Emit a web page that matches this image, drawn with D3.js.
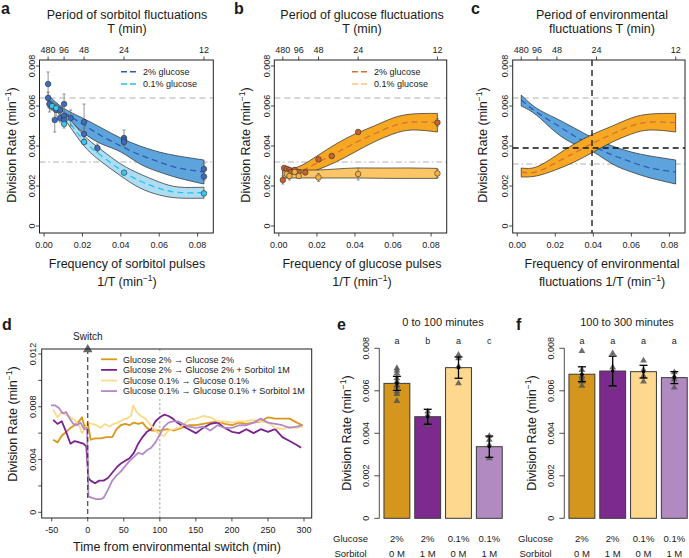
<!DOCTYPE html>
<html><head><meta charset="utf-8">
<script src="https://cdn.jsdelivr.net/npm/d3@7"></script>
<style>
body{margin:0;background:#fff}
text{font-family:"Liberation Sans",Arial,Helvetica,sans-serif;fill:#1a1a1a}
</style>
</head><body><script>
// ---------------- DATA ----------------
const FREQ_DOMAIN = [-0.0024, 0.0882];
const topPeriods = [480, 96, 48, 24, 12];
const freqTicks = [0, 0.02, 0.04, 0.06, 0.08];
const rateTicks = [0, 0.002, 0.004, 0.006, 0.008];
const fitFreq = [0.00208, 0.01, 0.02, 0.03, 0.04, 0.05, 0.06, 0.07, 0.0833];

// panel a (sorbitol pulses)
const aHighPeriod = [480,480,360,240,180,160,120,120,96,96,96,72,48,48,36,24,24,24,12,12];
const aHighRate = [0.0071,0.0064,0.0061,0.0060,0.0053,0.0058,0.0054,0.0058,0.0061,0.0055,0.0053,0.0054,0.0052,0.0046,0.0039,0.0044,0.0043,0.0042,0.00285,0.00247];
const aHighErr = [0.0006,0.0003,0.0004,0.0002,0.0006,0.0003,0.0002,0.0002,0.0005,0.0002,0.0002,0.0004,0.0009,0.0003,0.0002,0.0004,0.0002,0.0002,0.0003,0.0002];
const aLowPeriod = [240,160,96,48,24,12];
const aLowRate = [0.0060,0.0059,0.0051,0.0042,0.00267,0.00163];
const aLowErr = [0.0002,0.0002,0.0002,0.0001,0.0001,0.0001];
const aHighFitHi = [0.00655,0.0059,0.0054,0.0049,0.0044,0.0040,0.0037,0.0035,0.0033];
const aHighFitLo = [0.0060,0.00555,0.0047,0.0041,0.0037,0.0031,0.0027,0.0024,0.0021];
const aHighFitMid = [0.0063,0.0057,0.0051,0.0045,0.0040,0.00355,0.0032,0.0029,0.0027];
const aLowFitHi = [0.0062,0.0057,0.0046,0.0038,0.0031,0.0026,0.0022,0.00195,0.00194];
const aLowFitLo = [0.0059,0.0054,0.0041,0.0032,0.0025,0.0019,0.00155,0.0014,0.00139];
const aLowFitMid = [0.00605,0.00555,0.00435,0.0035,0.0028,0.00225,0.00188,0.00168,0.00167];

// panel b (glucose pulses)
const bHighPeriod = [480,360,240,180,160,120,96,72,48,36,24,12];
const bHighRate = [0.0023,0.0029,0.00285,0.0028,0.0027,0.0028,0.0027,0.00268,0.00333,0.0035,0.0047,0.00517];
const bHighErr = [0.0002,0.0001,0.0001,0.0001,0.0001,0.0001,0.0001,0.0001,0.0001,0.0001,0.0001,0.0002];
const bLowPeriod = [240,180,120,96,48,24,12];
const bLowRate = [0.0026,0.0025,0.0027,0.0025,0.00243,0.0026,0.00263];
const bLowErr = [0.0002,0.0002,0.0001,0.0001,0.0002,0.0003,0.0002];
const bHighFitHi = [0.0029,0.00295,0.0035,0.0041,0.0046,0.0050,0.0054,0.0056,0.00563];
const bHighFitLo = [0.00245,0.0025,0.0028,0.0032,0.0037,0.0042,0.0046,0.0048,0.0047];
const bHighFitMid = [0.0027,0.0027,0.00315,0.00365,0.00415,0.0046,0.0050,0.0052,0.00517];
const bLowFitHi = [0.0028,0.0028,0.0028,0.00285,0.0029,0.0029,0.0029,0.0029,0.00288];
const bLowFitLo = [0.0024,0.0024,0.0024,0.0024,0.0024,0.00239,0.00238,0.00238,0.00238];
const bLowFitMid = [0.0026,0.0026,0.0026,0.00263,0.00265,0.00265,0.00264,0.00264,0.00263];

// panel c crossing
const crossFreq = 0.0393;
const crossRate = 0.0039;

// panel d time series
const dSeriesNames = ["Glucose 2% \u2192 Glucose 2%","Glucose 2% \u2192 Glucose 2% + Sorbitol 1M","Glucose 0.1% \u2192 Glucose 0.1%","Glucose 0.1% \u2192 Glucose 0.1% + Sorbitol 1M"];
const dGoldT = [-48,-42,-36,-30,-24,-18,-12,-8,-4,0,4,10,18,26,34,40,46,52,58,64,70,76,82,88,94,100,110,120,130,140,150,160,170,180,190,200,210,220,230,240,250,260,270,280,290,298];
const dGoldV = [0.0055,0.0053,0.0058,0.0061,0.0064,0.0066,0.0069,0.0072,0.0064,0.0068,0.0055,0.0056,0.0056,0.0057,0.0057,0.0063,0.0066,0.0067,0.0066,0.0068,0.0067,0.0068,0.0064,0.0062,0.0062,0.0062,0.0063,0.0062,0.0064,0.0066,0.0066,0.0067,0.0068,0.0069,0.0067,0.0066,0.0068,0.0067,0.0068,0.0069,0.0072,0.0071,0.0071,0.0071,0.0068,0.0066];
const dPurpleT = [-48,-42,-36,-30,-24,-18,-12,-6,-2,1,4,10,16,22,28,34,40,46,52,58,64,70,76,82,88,94,100,106,112,118,124,130,140,150,160,170,180,190,200,210,220,230,240,250,260,270,280,290,296];
const dPurpleV = [0.0070,0.0067,0.0069,0.0061,0.0052,0.0054,0.0053,0.0052,0.0050,0.0026,0.0024,0.0022,0.0024,0.0024,0.0026,0.0030,0.0034,0.0037,0.0039,0.0041,0.0045,0.0052,0.0057,0.0061,0.0063,0.0069,0.0072,0.0074,0.0073,0.0071,0.0068,0.0066,0.0063,0.0060,0.0064,0.0067,0.0068,0.0064,0.0061,0.0060,0.0063,0.0060,0.0063,0.0061,0.0063,0.0057,0.0054,0.0051,0.0049];
const dLightGoldT = [-48,-42,-36,-30,-24,-18,-12,-8,-4,0,6,12,18,24,30,36,42,48,54,60,63,68,74,80,86,92,100,106,112,120,130,140,150,160,170,180,190,200,210,220,230,240,250,260,270,280,290,298];
const dLightGoldV = [0.0078,0.0072,0.0076,0.0074,0.0072,0.0070,0.0066,0.0060,0.0063,0.0068,0.0067,0.0066,0.0064,0.0067,0.0065,0.0067,0.0068,0.0070,0.0071,0.0073,0.0081,0.0076,0.0073,0.0071,0.0067,0.0063,0.0059,0.0058,0.0062,0.0063,0.0065,0.0070,0.0071,0.0073,0.0072,0.0069,0.0069,0.0068,0.0069,0.0069,0.0070,0.0069,0.0068,0.0064,0.0063,0.0065,0.0064,0.0065];
const dLightPurpleT = [-51,-45,-40,-35,-30,-25,-20,-15,-10,-5,-1,1,6,12,18,22,28,34,40,46,52,58,64,70,76,82,88,94,100,106,112,118,125,132,140,150,160,170,180,190,200,210,220,230,240,250,260,270,280,290,298];
const dLightPurpleV = [0.0081,0.0081,0.0079,0.0075,0.0076,0.0071,0.0067,0.0066,0.0068,0.0063,0.0064,0.0012,0.0011,0.0010,0.0010,0.0011,0.0017,0.0024,0.0028,0.0031,0.0035,0.0039,0.0042,0.0045,0.0044,0.0047,0.0049,0.0053,0.0059,0.0065,0.0068,0.0069,0.0069,0.0067,0.0065,0.0064,0.0065,0.0062,0.0066,0.0064,0.0064,0.0066,0.0066,0.0068,0.0071,0.0068,0.0067,0.0066,0.0064,0.0065,0.0066];
const dTimeTicks = [-50,0,50,100,150,200,250,300];
const dRateTicks = [0,0.002,0.004,0.006,0.008,0.010,0.012];
const dRateLabels = [0,0.004,0.008,0.012];
const switchTime = 0;
const recoveryTime = 100;

// panels e,f bars
const barGlucose = ["2%","2%","0.1%","0.1%"];
const barSorbitol = ["0 M","1 M","0 M","1 M"];
const eMeans = [0.00635,0.00478,0.00709,0.00337];
const eErr = [0.00033,0.00035,0.0005,0.0005];
const eReps = [[0.00706,0.00695,0.00682,0.00659,0.00643,0.00627,0.0062,0.00596,0.00585,0.00552],[0.00502,0.00486,0.0047,0.00439],[0.00769,0.00753,0.00714,0.00635],[0.00387,0.00369,0.00345,0.00282]];
const eLetters = ["a","b","a","c"];
const fMeans = [0.00678,0.00693,0.0069,0.00662];
const fErr = [0.00035,0.0007,0.0003,0.00028];
const fReps = [[0.00787,0.00698,0.0067,0.00659,0.00643,0.00623],[0.00776,0.0071,0.00667,0.0062],[0.00742,0.00698,0.0067,0.00643],[0.00687,0.00667,0.00654,0.00615]];
const fLetters = ["a","a","a","a"];

// ---------------- STYLE ----------------
const C = {
  blueBand:"#5ea4dc", blueLight:"#addcf3", bluePt:"#3b6cc0", cyanPt:"#3cc4ee", blueDash:"#2f5bb5", cyanDash:"#22c4f0",
  orBand:"#f7a823", orLight:"#fcc664", orPt:"#c8622a", orLightPt:"#f6b042", orDash:"#d5703a", orLightDash:"#fbc27a",
  gold:"#d8981c", purple:"#7a2290", lgold:"#fdd98b", lpurple:"#b48ac6"
};
const lineColors = [C.gold, C.purple, C.lgold, C.lpurple];
const barColors = ["#d4961c","#7d2a8e","#fdd88e","#b28ac2"];

const svg = d3.select("body").append("svg").attr("width",689).attr("height",558);

function rateTitle(g, x, cy, fs) {
  const t = g.append("text").attr("transform",`translate(${x},${cy}) rotate(-90)`)
    .attr("text-anchor","middle").attr("font-size",fs);
  t.append("tspan").text("Division Rate (min");
  t.append("tspan").attr("dy",-5).attr("font-size",fs*0.68).text("\u22121");
  t.append("tspan").attr("dy",5).text(")");
}
function minText(g, x, y, prefix, fs) {
  const t = g.append("text").attr("x",x).attr("y",y).attr("text-anchor","middle").attr("font-size",fs);
  t.append("tspan").text(prefix + "(min");
  t.append("tspan").attr("dy",-5).attr("font-size",fs*0.68).text("\u22121");
  t.append("tspan").attr("dy",5).text(")");
}
function plainText(g, x, y, s, fs, anchor="middle", weight="normal") {
  return g.append("text").attr("x",x).attr("y",y).attr("text-anchor",anchor).attr("font-size",fs).attr("font-weight",weight).text(s);
}
function leftAxis(g, y, x0, ticks, labelSet, fmt, tickLen, labOff, fs) {
  ticks.forEach(v => {
    g.append("line").attr("x1",x0).attr("x2",x0-tickLen).attr("y1",y(v)).attr("y2",y(v)).attr("stroke","#222").attr("stroke-width",0.8);
    if (labelSet.includes(v)) {
      g.append("text").attr("transform",`translate(${x0-labOff},${y(v)}) rotate(-90)`)
        .attr("text-anchor","middle").attr("font-size",fs).text(fmt(v));
    }
  });
}
const rateFmt = v => v === 0 ? "0" : d3.format(".3f")(v);

// ---------------- PANELS a,b,c ----------------
function freqPanel(o) {
  const g = svg.append("g");
  const T = 60, B = 233;
  const x = d3.scaleLinear().domain(FREQ_DOMAIN).range([o.L, o.R]);
  const y = d3.scaleLinear().domain([0, 0.008]).range([226, 66]);
  g.append("line").attr("x1",o.L).attr("x2",o.R).attr("y1",y(o.refHi)).attr("y2",y(o.refHi))
    .attr("stroke","#b0b0b0").attr("stroke-width",1).attr("stroke-dasharray","6,4");
  g.append("line").attr("x1",o.L).attr("x2",o.R).attr("y1",y(o.refLo)).attr("y2",y(o.refLo))
    .attr("stroke","#b0b0b0").attr("stroke-width",1).attr("stroke-dasharray","6,3,1.5,3");
  o.bands.forEach(b => {
    const pts = fitFreq.map((f,i)=>({f, hi:b.hi[i], lo:b.lo[i], mid:b.mid[i]}));
    const area = d3.area().x(d=>x(d.f)).y0(d=>y(d.lo)).y1(d=>y(d.hi)).curve(d3.curveNatural);
    g.append("path").datum(pts).attr("d",area).attr("fill",b.fill).attr("stroke","#2a2a2a").attr("stroke-width",0.7);
    const line = d3.line().x(d=>x(d.f)).y(d=>y(d.mid)).curve(d3.curveNatural);
    g.append("path").datum(pts).attr("d",line).attr("fill","none").attr("stroke",b.dash).attr("stroke-width",1.3).attr("stroke-dasharray","6,4");
  });
  if (o.cross) {
    g.append("line").attr("x1",x(o.cross[0])).attr("x2",x(o.cross[0])).attr("y1",T).attr("y2",B)
      .attr("stroke","#111").attr("stroke-width",1.3).attr("stroke-dasharray","6,4");
    g.append("line").attr("x1",o.L).attr("x2",o.R).attr("y1",y(o.cross[1])).attr("y2",y(o.cross[1]))
      .attr("stroke","#111").attr("stroke-width",1.3).attr("stroke-dasharray","6,4");
  }
  o.points.forEach(s => {
    s.period.forEach((p,i) => {
      const cx = x(1/p);
      g.append("line").attr("x1",cx).attr("x2",cx).attr("y1",y(s.rate[i]-s.err[i])).attr("y2",y(s.rate[i]+s.err[i])).attr("stroke","#777").attr("stroke-width",0.8);
      [s.rate[i]-s.err[i], s.rate[i]+s.err[i]].forEach(v=>g.append("line").attr("x1",cx-1.5).attr("x2",cx+1.5).attr("y1",y(v)).attr("y2",y(v)).attr("stroke","#777").attr("stroke-width",0.8));
    });
  });
  o.points.forEach(s => {
    s.period.forEach((p,i) => {
      g.append("circle").attr("cx",x(1/p)).attr("cy",y(s.rate[i])).attr("r",2.8).attr("fill",s.fill).attr("stroke","#333").attr("stroke-width",0.6);
    });
  });
  g.append("rect").attr("x",o.L).attr("y",T).attr("width",o.R-o.L).attr("height",B-T).attr("fill","none").attr("stroke","#222").attr("stroke-width",1);
  leftAxis(g, y, o.L, rateTicks, rateTicks, rateFmt, 3.5, 4.5, 9);
  freqTicks.forEach(v => {
    g.append("line").attr("x1",x(v)).attr("x2",x(v)).attr("y1",B).attr("y2",B+3.5).attr("stroke","#222").attr("stroke-width",0.8);
    plainText(g, x(v), B+15, d3.format(".2f")(v), 9);
  });
  topPeriods.forEach(p => {
    g.append("line").attr("x1",x(1/p)).attr("x2",x(1/p)).attr("y1",T).attr("y2",T-3.5).attr("stroke","#222").attr("stroke-width",0.8);
    plainText(g, x(1/p), T-7.5, String(p), 9);
  });
  const cx = o.titleX;
  plainText(g, cx, 18.5, o.title[0], 12.5);
  plainText(g, cx, 33, o.title[1], 12.5);
  plainText(g, cx, 268, o.xlab[0], 12.5);
  minText(g, cx, 286, o.xlab[1], 12.5);
  rateTitle(g, o.yTitleX, 145, 12.5);
  plainText(g, o.letterX, 14, o.letter, 16, "start", "bold");
  if (o.legend) {
    o.legend.forEach((l,i) => {
      const ly = 71.7 + i*12.3;
      g.append("line").attr("x1",o.legX).attr("x2",o.legX+16).attr("y1",ly).attr("y2",ly).attr("stroke",l.color).attr("stroke-width",1.4).attr("stroke-dasharray","6,3");
      plainText(g, o.legX+22, ly+3.2, l.label, 9, "start");
    });
  }
}

freqPanel({
  L:39.5, R:213.3, letter:"a", letterX:1, titleX:127,
  title:["Period of sorbitol fluctuations","T (min)"], xlab:["Frequency of sorbitol pulses","1/T "],
  yTitleX:15.5, refHi:0.0064, refLo:0.0032,
  bands:[{hi:aHighFitHi, lo:aHighFitLo, mid:aHighFitMid, fill:C.blueBand, dash:C.blueDash},
         {hi:aLowFitHi, lo:aLowFitLo, mid:aLowFitMid, fill:C.blueLight, dash:C.cyanDash}],
  points:[{period:aHighPeriod, rate:aHighRate, err:aHighErr, fill:C.bluePt},
          {period:aLowPeriod, rate:aLowRate, err:aLowErr, fill:C.cyanPt}],
  legX:121, legend:[{label:"2% glucose", color:C.blueDash},{label:"0.1% glucose", color:C.cyanDash}]
});
freqPanel({
  L:274.3, R:446.7, letter:"b", letterX:234, titleX:362,
  title:["Period of glucose fluctuations","T (min)"], xlab:["Frequency of glucose pulses","1/T "],
  yTitleX:249.5, refHi:0.0064, refLo:0.0032,
  bands:[{hi:bHighFitHi, lo:bHighFitLo, mid:bHighFitMid, fill:C.orBand, dash:C.orDash},
         {hi:bLowFitHi, lo:bLowFitLo, mid:bLowFitMid, fill:C.orLight, dash:C.orLightDash}],
  points:[{period:bHighPeriod, rate:bHighRate, err:bHighErr, fill:C.orPt},
          {period:bLowPeriod, rate:bLowRate, err:bLowErr, fill:C.orLightPt}],
  legX:352, legend:[{label:"2% glucose", color:C.orDash},{label:"0.1% glucose", color:C.orLightDash}]
});
freqPanel({
  L:512.7, R:685, letter:"c", letterX:471, titleX:602,
  title:["Period of environmental","fluctuations T (min)"], xlab:["Frequency of environmental","fluctuations 1/T "],
  yTitleX:487, refHi:0.0064, refLo:0.0031,
  bands:[{hi:aHighFitHi, lo:aHighFitLo, mid:aHighFitMid, fill:C.blueBand, dash:C.blueDash},
         {hi:bHighFitHi, lo:bHighFitLo, mid:bHighFitMid, fill:C.orBand, dash:C.orDash}],
  points:[], cross:[crossFreq, crossRate]
});

// ---------------- PANEL d ----------------
(function(){
  const g = svg.append("g");
  const L=41.7, R=311.7, T=349, B=518;
  const x = d3.scaleLinear().domain([-50,300]).range([51.7,304]);
  const y = d3.scaleLinear().domain([0,0.012]).range([512.3,354]);
  g.append("line").attr("x1",x(recoveryTime)).attr("x2",x(recoveryTime)).attr("y1",T).attr("y2",B)
    .attr("stroke","#999").attr("stroke-width",0.9).attr("stroke-dasharray","2.5,2");
  const series = [[dGoldT,dGoldV],[dPurpleT,dPurpleV],[dLightGoldT,dLightGoldV],[dLightPurpleT,dLightPurpleV]];
  const line = d3.line().x(d=>x(d[0])).y(d=>y(d[1]));
  series.forEach((s,i) => {
    const pts = s[0].map((t,j)=>[t, s[1][j]]);
    g.append("path").datum(pts).attr("d",line).attr("fill","none").attr("stroke",lineColors[i]).attr("stroke-width",1.8).attr("stroke-linejoin","round");
  });
  g.append("rect").attr("x",97).attr("y",351).attr("width",213).attr("height",48).attr("fill","#fff");
  dSeriesNames.forEach((n,i) => {
    const ly = 359.3 + i*10.6;
    g.append("line").attr("x1",101).attr("x2",117).attr("y1",ly).attr("y2",ly).attr("stroke",lineColors[i]).attr("stroke-width",1.8);
    plainText(g, 123, ly+3.2, n, 9, "start");
  });
  g.append("line").attr("x1",x(switchTime)).attr("x2",x(switchTime)).attr("y1",T).attr("y2",B)
    .attr("stroke","#333").attr("stroke-width",1.1).attr("stroke-dasharray","5,3");
  g.append("path").attr("d",d3.symbol(d3.symbolTriangle, 40)()).attr("transform",`translate(${x(switchTime)},${T+0.5})`).attr("fill","#666");
  plainText(g, x(switchTime), 339.5, "Switch", 10);
  g.append("rect").attr("x",L).attr("y",T).attr("width",R-L).attr("height",B-T).attr("fill","none").attr("stroke","#222").attr("stroke-width",1);
  leftAxis(g, y, L, dRateTicks, dRateLabels, rateFmt, 3.5, 5.5, 9);
  dTimeTicks.forEach(v => {
    g.append("line").attr("x1",x(v)).attr("x2",x(v)).attr("y1",B).attr("y2",B+3.5).attr("stroke","#222").attr("stroke-width",0.8);
    plainText(g, x(v), B+14.5, String(v), 9);
  });
  plainText(g, 177, 551, "Time from environmental switch (min)", 12.5);
  rateTitle(g, 16.5, 424, 12.5);
  plainText(g, 2, 330, "d", 16, "start", "bold");
})();

// ---------------- PANELS e,f ----------------
function barPanel(o) {
  const g = svg.append("g");
  const y = d3.scaleLinear().domain([0,0.008]).range([518.3,348.3]);
  const x = d3.scaleBand().domain(d3.range(4)).range(o.range).paddingInner(0.16).paddingOuter(0.08);
  o.means.forEach((m,i) => {
    g.append("rect").attr("x",x(i)).attr("y",y(m)).attr("width",x.bandwidth()).attr("height",y(0)-y(m))
      .attr("fill",barColors[i]).attr("stroke","#3a3a3a").attr("stroke-width",1);
  });
  const tri = d3.symbol(d3.symbolTriangle, 20)();
  o.reps.forEach((r,i) => {
    const cx = x(i)+x.bandwidth()/2;
    r.forEach(v => g.append("path").attr("d",tri).attr("transform",`translate(${cx},${y(v)})`).attr("fill","#555").attr("fill-opacity",0.85));
  });
  o.means.forEach((m,i) => {
    const cx = x(i)+x.bandwidth()/2;
    g.append("line").attr("x1",cx).attr("x2",cx).attr("y1",y(m-o.err[i])).attr("y2",y(m+o.err[i])).attr("stroke","#000").attr("stroke-width",1.3);
    [m-o.err[i], m+o.err[i]].forEach(v=>g.append("line").attr("x1",cx-4).attr("x2",cx+4).attr("y1",y(v)).attr("y2",y(v)).attr("stroke","#000").attr("stroke-width",1.3));
    g.append("circle").attr("cx",cx).attr("cy",y(m)).attr("r",1.8).attr("fill","#000");
    plainText(g, cx, 344, o.letters[i], 9);
    plainText(g, cx, 541.5, barGlucose[i], 9.5);
    plainText(g, cx, 556.5, barSorbitol[i], 9.5);
  });
  g.append("line").attr("x1",o.axisX).attr("x2",o.axisX).attr("y1",y(0)).attr("y2",y(0.008)).attr("stroke","#222").attr("stroke-width",0.8);
  leftAxis(g, y, o.axisX, rateTicks, rateTicks, rateFmt, 5, 10, 9);
  plainText(g, o.labX, 541.5, "Glucose", 9.5);
  plainText(g, o.labX, 556.5, "Sorbitol", 9.5);
  plainText(g, o.titleX, 326, o.title, 11);
  plainText(g, o.letterX, 330, o.letter, 16, "start", "bold");
  rateTitle(g, o.yTitleX, 433, 12.5);
}
barPanel({means:eMeans, err:eErr, reps:eReps, letters:eLetters, range:[381.5,504.7], axisX:379.3,
  labX:350.5, title:"0 to 100 minutes", titleX:443, letter:"e", letterX:337, yTitleX:350.5});
barPanel({means:fMeans, err:fErr, reps:fReps, letters:fLetters, range:[566.5,689.7], axisX:564.3,
  labX:535.5, title:"100 to 300 minutes", titleX:627, letter:"f", letterX:516, yTitleX:535.5});
</script></body></html>
